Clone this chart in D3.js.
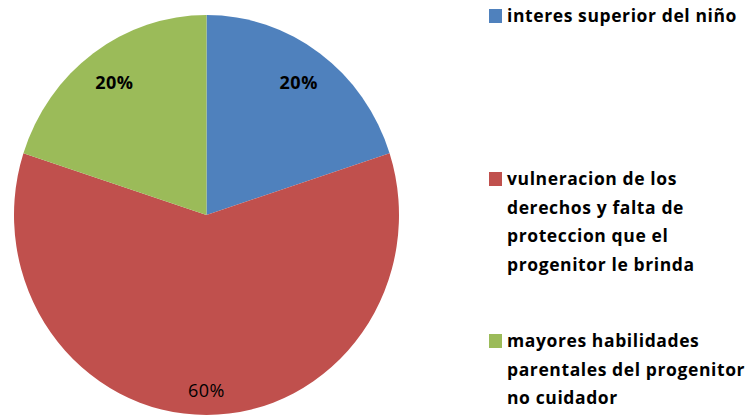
<!doctype html>
<html lang="es">
<head>
<meta charset="UTF-8">
<title>Pie</title>
<style>
  body { margin: 0; background: #fff; }
  svg text { font-family: "Open Sans", Lato, sans-serif; font-weight: bold; fill: #000; }
</style>
</head>
<body>
<svg width="752" height="417"></svg>
<script src="https://d3js.org/d3.v7.min.js"></script>
<script>
const categories = [
  ['interes superior del niño'],
  ['vulneracion de los', 'derechos y falta  de', 'proteccion que el', 'progenitor le brinda'],
  ['mayores habilidades', 'parentales del progenitor', 'no cuidador']
];
const values = [20, 60, 20];
const labels = ['20%', '60%', '20%'];
const colors = ['#4F81BD', '#C0504D', '#9BBB59'];

const svg = d3.select('svg');
// the pie is a bit squashed sideways in the original
const cx = 206.5, cy = 215, r = 200, sx = 192.5 / 200;

const pie = d3.pie().sort(null).value(d => d)(values);
const arc = d3.arc().innerRadius(0).outerRadius(r);

const g = svg.append('g').attr('transform', `translate(${cx},${cy})`);

g.append('g')
  .attr('transform', `scale(${sx},1)`)
  .selectAll('path')
  .data(pie)
  .enter()
  .append('path')
  .attr('d', arc)
  .attr('fill', (d, i) => colors[i]);

// small slices get labels a bit further in than the big one
const labelArc = d3.arc().innerRadius(r * 0.815).outerRadius(r * 0.815);
const bigArc = d3.arc().innerRadius(r * 0.88).outerRadius(r * 0.88);

g.selectAll('text.lbl')
  .data(pie)
  .enter()
  .append('text')
  .attr('class', 'lbl')
  .attr('transform', d => {
    const c = (d.endAngle - d.startAngle > Math.PI) ? bigArc.centroid(d) : labelArc.centroid(d);
    return `translate(${c[0] * sx},${c[1]})`;
  })
  .attr('text-anchor', 'middle')
  .attr('dy', '0.35em')
  .style('font-size', '18px')
  .style('letter-spacing', '0.5px')
  .style('font-weight', (d, i) => i === 1 ? 'normal' : 'bold')
  .text((d, i) => labels[i]);

// legend
const legendTop = [8, 171, 333];
const lineH = 28.5;

const leg = svg.selectAll('g.leg')
  .data(categories)
  .enter()
  .append('g')
  .attr('class', 'leg')
  .attr('transform', (d, i) => `translate(489,${legendTop[i]})`);

leg.append('rect')
  .attr('width', 13)
  .attr('height', 14)
  .attr('y', 1)
  .attr('fill', (d, i) => colors[i]);

leg.selectAll('text')
  .data(d => d)
  .enter()
  .append('text')
  .attr('x', 18)
  .attr('y', (d, i) => 14 + i * lineH)
  .style('font-size', '17.5px')
  .style('letter-spacing', '0.6px')
  .text(d => d);
</script>
</body>
</html>
